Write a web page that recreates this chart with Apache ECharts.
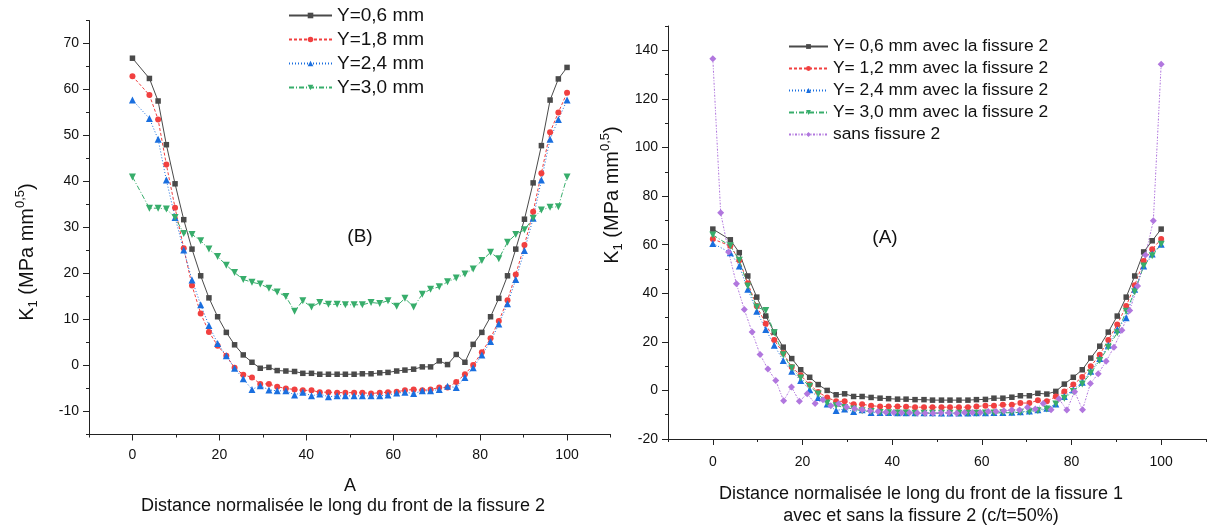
<!DOCTYPE html>
<html>
<head>
<meta charset="utf-8">
<script src="https://cdn.jsdelivr.net/npm/echarts@6.0.0/dist/echarts.min.js"></script>
<style>
  html, body { margin: 0; padding: 0; background: #fff; }
  #chart { width: 1208px; height: 526px; }
</style>
</head>
<body>
<div id="chart"></div>
<script>
const FONT = '"Liberation Sans", Arial, sans-serif'
const TXT = '#111'

// distance normalisée le long du front (maillage avec fissure 2)
const xFront = [0, 3.9, 5.9, 7.8, 9.8, 11.8, 13.7, 15.7, 17.6, 19.6, 21.6, 23.5, 25.5, 27.5, 29.4, 31.4, 33.3,
  35.3, 37.3, 39.2, 41.2, 43.1, 45.1, 47.1, 49.0, 51.0, 52.9, 54.9, 56.9, 58.8, 60.8, 62.7, 64.7, 66.7, 68.6,
  70.6, 72.5, 74.5, 76.5, 78.4, 80.4, 82.4, 84.3, 86.3, 88.2, 90.2, 92.2, 94.1, 96.1, 98.0, 100]
// distance normalisée (sans fissure 2)
const xSans = [0, 1.75, 3.51, 5.26, 7.02, 8.77, 10.53, 12.28, 14.04, 15.79, 17.54, 19.3, 21.05, 22.81, 24.56,
  26.32, 28.07, 29.82, 31.58, 33.33, 35.09, 36.84, 38.6, 40.35, 42.11, 43.86, 45.61, 47.37, 49.12, 50.88, 52.63,
  54.39, 56.14, 57.89, 59.65, 61.4, 63.16, 64.91, 66.67, 68.42, 70.18, 71.93, 73.68, 75.44, 77.19, 78.95, 80.7,
  82.46, 84.21, 85.96, 87.72, 89.47, 91.23, 92.98, 94.74, 96.49, 98.25, 100]

// (B) fissure 2
const kB06 = [66.8, 62.4, 57.5, 48.0, 39.5, 31.7, 25.3, 19.5, 14.7, 10.6, 7.2, 4.5, 2.3, 0.7, -0.6, -0.4, -1.1,
  -1.2, -1.3, -1.7, -1.7, -1.9, -1.9, -1.9, -1.9, -1.9, -1.8, -1.8, -1.6, -1.5, -1.2, -1.0, -0.8, -0.3, -0.3,
  1.0, 0.2, 2.4, 0.7, 4.6, 7.2, 10.6, 14.6, 19.5, 25.3, 31.8, 39.7, 47.8, 57.7, 62.3, 64.8]
const kB18 = [62.9, 58.8, 53.5, 43.7, 34.3, 25.5, 17.4, 11.3, 7.3, 4.3, 2.1, -0.5, -2.0, -2.6, -4.0, -4.0, -4.6,
  -5.0, -5.2, -5.4, -5.4, -5.8, -5.8, -5.9, -5.9, -5.9, -5.9, -6.1, -5.9, -5.8, -5.7, -5.4, -5.2, -5.4, -5.2,
  -4.8, -4.8, -3.6, -1.9, 0.1, 2.9, 5.9, 9.7, 14.2, 19.8, 26.2, 33.4, 41.8, 50.7, 55.0, 59.3]
const kB24 = [57.7, 53.7, 49.2, 40.3, 32.2, 25.1, 18.6, 13.2, 8.7, 4.8, 2.1, -0.6, -2.9, -5.2, -4.4, -5.3, -5.5,
  -5.5, -6.4, -5.8, -6.6, -6.2, -6.8, -6.6, -6.6, -6.6, -6.6, -6.6, -6.6, -6.4, -6.0, -5.8, -6.1, -5.5, -5.5,
  -5.2, -4.5, -4.8, -2.6, -0.5, 2.3, 5.2, 9.0, 13.4, 18.7, 25.0, 32.0, 40.3, 49.2, 53.5, 57.7]
const kB30 = [41.0, 34.2, 34.2, 34.0, 32.2, 28.7, 28.5, 27.1, 25.3, 23.7, 21.8, 20.2, 18.7, 18.1, 17.7, 16.8,
  16.0, 15.0, 11.8, 14.1, 12.7, 13.7, 13.3, 13.3, 13.2, 13.2, 13.2, 13.7, 13.5, 14.1, 12.9, 14.6, 12.7, 15.5,
  16.6, 17.1, 18.2, 19.0, 19.9, 21.0, 22.8, 24.6, 23.2, 26.8, 28.5, 29.5, 32.0, 33.8, 34.4, 34.5, 41.0]

// (A) fissure 1, avec et sans fissure 2
const kA06 = [66.4, 62.0, 56.7, 47.1, 38.4, 30.6, 24.0, 17.8, 13.1, 8.5, 5.4, 2.4, 0.0, -1.8, -1.4, -2.5, -2.5,
  -2.9, -3.2, -3.4, -3.6, -3.6, -3.8, -3.8, -4.0, -4.0, -4.0, -4.0, -4.0, -3.8, -3.7, -3.2, -3.2, -2.8, -2.2,
  -2.2, -1.2, -1.5, -0.4, 2.6, 5.4, 8.5, 13.3, 18.2, 24.0, 30.6, 38.4, 47.1, 57.0, 61.6, 66.4]
const kA12 = [62.3, 59.5, 53.6, 44.1, 34.7, 27.4, 20.7, 15.4, 9.6, 6.2, 2.4, -0.7, -2.9, -4.5, -4.5, -5.7, -5.7,
  -6.3, -6.6, -6.6, -6.6, -6.7, -6.9, -6.9, -6.9, -6.9, -6.9, -6.9, -6.9, -6.6, -6.3, -6.3, -5.9, -5.9, -5.2,
  -5.2, -4.1, -4.5, -2.5, -0.4, 2.4, 5.5, 9.9, 14.7, 20.7, 27.1, 34.7, 43.3, 53.3, 58.1, 62.3]
const kA24 = [60.5, 56.7, 51.2, 41.6, 32.6, 25.1, 18.6, 12.3, 7.9, 4.1, 0.3, -2.9, -5.6, -8.3, -7.6, -8.7, -8.0,
  -9.1, -9.1, -9.1, -9.2, -9.2, -9.2, -9.2, -9.2, -9.3, -9.3, -9.3, -9.3, -9.2, -9.2, -9.1, -9.1, -9.0, -8.8,
  -8.5, -8.0, -7.3, -5.6, -2.5, 0.3, 3.4, 7.9, 13.1, 18.6, 25.1, 29.9, 41.6, 51.2, 56.1, 60.2]
const kA30 = [64.0, 59.5, 53.6, 43.0, 34.3, 32.9, 23.7, 14.7, 9.2, 5.1, 1.7, -1.5, -5.2, -6.3, -7.0, -7.7, -8.4,
  -8.7, -9.1, -9.2, -9.3, -9.3, -9.4, -9.4, -9.4, -9.4, -9.4, -9.4, -9.4, -9.4, -9.3, -9.3, -9.2, -9.2, -9.0,
  -8.8, -8.4, -7.6, -5.6, -3.2, -0.4, 2.6, 7.2, 12.3, 17.8, 23.7, 32.6, 40.6, 51.2, 55.4, 60.2]
const kSans = [136.5, 73.1, 57.0, 43.9, 33.3, 24.0, 14.8, 8.8, 4.1, -4.3, 1.4, -4.5, -1.4, -5.4, -3.8, -6.3, -5.5,
  -6.8, -7.4, -8.0, -8.4, -8.7, -9.0, -9.1, -9.2, -9.2, -9.3, -9.4, -9.4, -9.2, -9.2, -9.4, -9.1, -9.1, -9.1,
  -8.7, -8.7, -8.4, -8.1, -8.1, -6.9, -7.7, -5.4, -8.0, -3.4, -8.1, -0.5, -8.0, 2.8, 6.9, 12.0, 17.8, 24.8,
  32.9, 43.0, 55.7, 69.8, 134.3]

const namesB = ['Y=0,6 mm', 'Y=1,8 mm', 'Y=2,4 mm', 'Y=3,0 mm']
const namesA = ['Y= 0,6 mm avec la fissure 2', 'Y= 1,2 mm avec la fissure 2', 'Y= 2,4 mm avec la fissure 2',
  'Y= 3,0 mm avec la fissure 2', 'sans fissure 2']

// graduations
const xMajor = [0, 20, 40, 60, 80, 100]
const xMinor = [-10, 10, 30, 50, 70, 90, 110]
const yMajorB = [-10, 0, 10, 20, 30, 40, 50, 60, 70]
const yMinorB = [-15, -5, 5, 15, 25, 35, 45, 55, 65, 75]
const yMajorA = [-20, 0, 20, 40, 60, 80, 100, 120, 140]
const yMinorA = [-10, 10, 30, 50, 70, 90, 110, 130, 150]

const myChart = echarts.init(document.getElementById('chart'))

const axisColor = '#222'

// axe principal (ligne + grandes graduations + étiquettes)
function mainAxis(grid, min, max, interval, major, position, margin) {
  return {
    type: 'value', gridIndex: grid, min, max, interval, position,
    axisLine: { show: true, onZero: false, lineStyle: { color: axisColor, width: 1 } },
    axisTick: { show: true, customValues: major, length: 6, lineStyle: { color: axisColor, width: 1 } },
    axisLabel: { show: true, customValues: major, margin, fontSize: 14, fontFamily: FONT, color: TXT },
    splitLine: { show: false }
  }
}
// axe secondaire : petites graduations seulement
function minorAxis(grid, min, max, interval, minor, position) {
  return {
    type: 'value', gridIndex: grid, min, max, interval, position,
    axisLine: { show: false, onZero: false },
    axisTick: { show: true, customValues: minor, length: 3, lineStyle: { color: axisColor, width: 1 } },
    axisLabel: { show: false },
    splitLine: { show: false }
  }
}

const styles = [
  { color: '#4a4a4a', symbol: 'rect', size: 5.5, dash: 'solid', rotate: 0 },
  { color: '#f14040', symbol: 'circle', size: 6, dash: [3, 2], rotate: 0 },
  { color: '#1a6fdf', symbol: 'triangle', size: 7, dash: [1, 2], rotate: 0 },
  { color: '#37ad6b', symbol: 'triangle', size: 7, dash: [5, 2, 1, 2], rotate: 180 },
  { color: '#b177de', symbol: 'diamond', size: 7, dash: [2, 1.5, 1, 1.5], rotate: 0 }
]

function line(name, xs, ys, axis, st) {
  return {
    name, type: 'line', xAxisIndex: axis, yAxisIndex: axis,
    data: xs.map((x, i) => [x, ys[i]]),
    symbol: st.symbol, symbolSize: st.size, symbolRotate: st.rotate, showAllSymbol: true,
    lineStyle: { color: st.color, width: 1, type: st.dash },
    itemStyle: { color: st.color, borderWidth: 0 },
    emphasis: { disabled: true }
  }
}

// titre d'axe vertical K1 (MPa mm^0,5)
function kTitle(x, y) {
  return {
    type: 'text', x, y, rotation: Math.PI / 2,
    style: {
      text: '{m|K}{s|1}{m| (MPa mm}{p|0,5}{m|)}', align: 'center', verticalAlign: 'middle', fill: TXT,
      rich: {
        m: { fontSize: 20, fontFamily: FONT, lineHeight: 26, verticalAlign: 'middle', fill: TXT },
        s: { fontSize: 13, fontFamily: FONT, lineHeight: 13, verticalAlign: 'bottom', fill: TXT },
        p: { fontSize: 13, fontFamily: FONT, lineHeight: 13, verticalAlign: 'top', fill: TXT }
      }
    }
  }
}

function label(x, y, text, size) {
  return { type: 'text', x, y, style: { text, font: size + 'px ' + FONT, fill: TXT, align: 'center', verticalAlign: 'middle' } }
}

const option = {
  animation: false,
  backgroundColor: '#fff',
  grid: [
    { left: 89, top: 20.5, width: 521.5, height: 414, outerBoundsMode: 'none' },
    { left: 668, top: 26, width: 538, height: 413, outerBoundsMode: 'none' }
  ],
  xAxis: [
    mainAxis(0, -10, 110, 10, xMajor, 'bottom', 14),
    minorAxis(0, -10, 110, 10, xMinor, 'bottom'),
    mainAxis(1, -10, 110, 10, xMajor, 'bottom', 16),
    minorAxis(1, -10, 110, 10, xMinor, 'bottom')
  ],
  yAxis: [
    mainAxis(0, -15, 75, 5, yMajorB, 'left', 10),
    minorAxis(0, -15, 75, 5, yMinorB, 'left'),
    mainAxis(1, -20, 150, 10, yMajorA, 'left', 10),
    minorAxis(1, -20, 150, 10, yMinorA, 'left')
  ],
  legend: [
    {
      data: namesB, orient: 'vertical', left: 288, top: 6, padding: 0,
      itemWidth: 43, itemHeight: 7, itemGap: 5,
      textStyle: { fontSize: 19, fontFamily: FONT, color: TXT },
      selectedMode: false
    },
    {
      data: namesA, orient: 'vertical', left: 788, top: 38, padding: 0,
      itemWidth: 39, itemHeight: 6, itemGap: 5,
      textStyle: { fontSize: 17.4, fontFamily: FONT, color: TXT },
      selectedMode: false
    }
  ],
  series: [
    line(namesB[0], xFront, kB06, 0, styles[0]),
    line(namesB[1], xFront, kB18, 0, styles[1]),
    line(namesB[2], xFront, kB24, 0, styles[2]),
    line(namesB[3], xFront, kB30, 0, styles[3]),
    line(namesA[0], xFront, kA06, 2, styles[0]),
    line(namesA[1], xFront, kA12, 2, styles[1]),
    line(namesA[2], xFront, kA24, 2, styles[2]),
    line(namesA[3], xFront, kA30, 2, styles[3]),
    line(namesA[4], xSans, kSans, 2, styles[4])
  ],
  graphic: [
    label(360, 237, '(B)', 19),
    label(885, 238, '(A)', 19),
    label(350, 486, 'A', 18),
    label(343, 506, 'Distance normalisée le long du front de la fissure 2', 18),
    label(921, 494, 'Distance normalisée le long du front de la fissure 1', 18),
    label(921, 516, 'avec et sans la fissure 2 (c/t=50%)', 18),
    kTitle(27, 252),
    kTitle(612, 195)
  ]
}

myChart.setOption(option)
</script>
</body>
</html>
